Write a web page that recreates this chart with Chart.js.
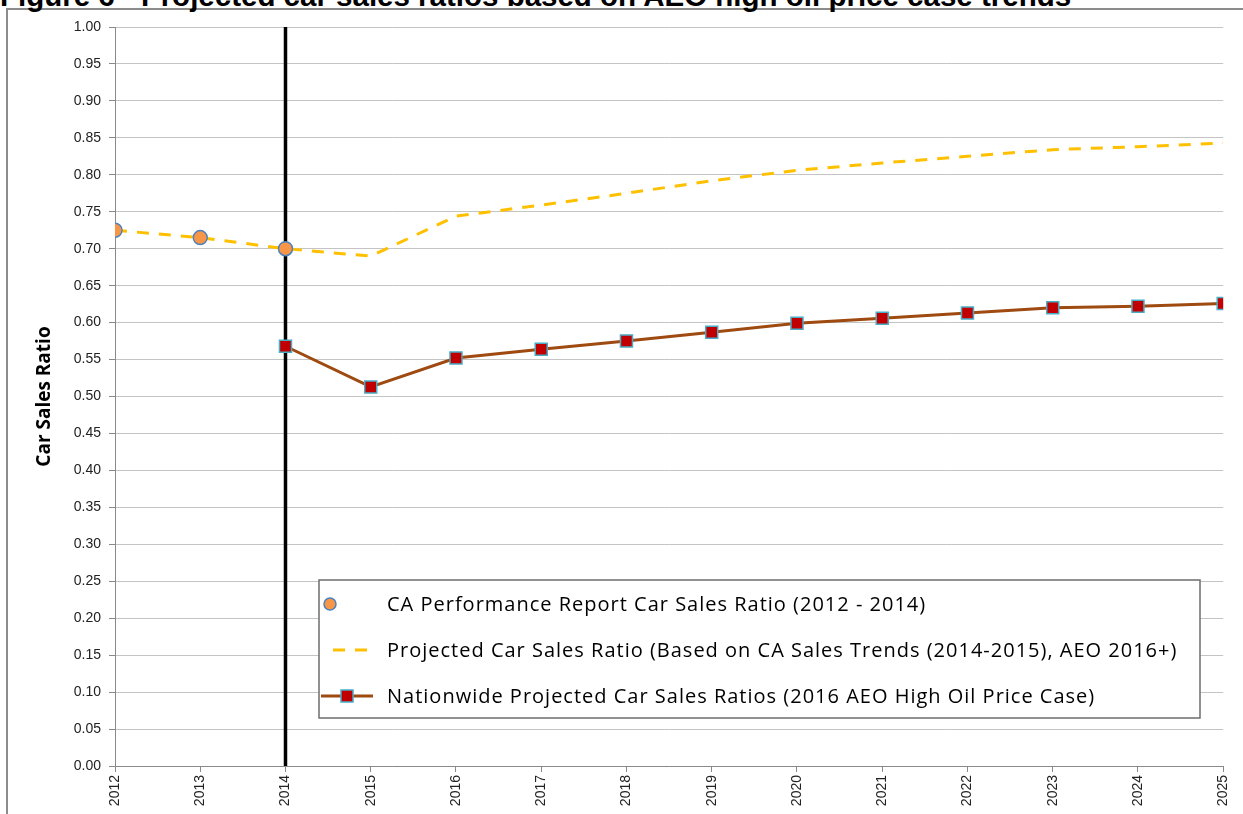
<!DOCTYPE html>
<html>
<head>
<meta charset="utf-8">
<script src="https://cdn.jsdelivr.net/npm/chart.js@4/dist/chart.umd.min.js"></script>
<style>
  html, body { margin: 0; padding: 0; background: #fff; overflow: hidden; }
  #wrap { position: relative; width: 1243px; height: 814px; overflow: hidden; }
  #frame { position: absolute; left: 6px; top: 8px; width: 1300px; height: 900px; border: 2px solid #8c8c8c; }
  #title { position: absolute; left: 0; top: -19px; font: bold 29.5px "Liberation Sans", Arial, sans-serif; line-height: 30px; white-space: nowrap; color: #000; }
  #chart { position: absolute; left: 0; top: 0; }
</style>
</head>
<body>
<div id="wrap">
  <div id="frame"></div>
  <div id="title">Figure 6 - Projected car sales ratios based on AEO high oil price case trends</div>
  <canvas id="chart" width="1243" height="830"></canvas>
</div>
<script>
// Données
const years = [2012, 2013, 2014, 2015, 2016, 2017, 2018, 2019, 2020, 2021, 2022, 2023, 2024, 2025];
const caReportYears = [2012, 2013, 2014];
const caReportValues = [0.725, 0.715, 0.700];
const projectedValues = [0.725, 0.715, 0.700, 0.690, 0.744, 0.759, 0.775, 0.792, 0.806, 0.816, 0.825, 0.834, 0.838, 0.843];
const nationYears = [2014, 2015, 2016, 2017, 2018, 2019, 2020, 2021, 2022, 2023, 2024, 2025];
const nationValues = [0.568, 0.513, 0.552, 0.564, 0.575, 0.587, 0.599, 0.606, 0.613, 0.620, 0.622, 0.626];
const markerYear = 2014;
const yRange = [0, 1];

const legendLabels = [
    'CA Performance Report Car Sales Ratio (2012 - 2014)',
    'Projected Car Sales Ratio (Based on CA Sales Trends (2014-2015), AEO 2016+)',
    'Nationwide Projected Car Sales Ratios (2016 AEO High Oil Price Case)'
];

const COLORS = {
    orange: '#F79646',
    blue: '#4F81BD',
    yellow: '#FFC000',
    brown: '#9E4A10',
    red: '#C00000',
    cyan: '#4BACC6',
    grid: '#c4c4c4',
    axis: '#8a8a8a'
};

function toPoints(xs, ys) {
    return xs.map((x, i) => ({ x: x, y: ys[i] }));
}

/**
 * Légende dessinée dans la zone du graphique
 */
const boxLegend = {
    id: 'boxLegend',
    afterDatasetsDraw(chart) {
        const ctx = chart.ctx;
        const area = chart.chartArea;
        const left = area.left + 204;
        const top = area.top + 553;
        const w = 881;
        const h = 138;

        ctx.save();
        ctx.fillStyle = '#fff';
        ctx.fillRect(left, top, w, h);
        ctx.strokeStyle = '#6e6e6e';
        ctx.lineWidth = 1.5;
        ctx.strokeRect(left, top, w, h);

        const rows = [top + 24, top + 70, top + 116];
        ctx.font = '20px "Open Sans", "Noto Sans", sans-serif';
        ctx.letterSpacing = '1px';
        ctx.fillStyle = '#000';
        ctx.textBaseline = 'middle';
        legendLabels.forEach((txt, i) => ctx.fillText(txt, left + 68, rows[i] + 1));
        ctx.letterSpacing = '0px';

        // cercle orange
        ctx.beginPath();
        ctx.arc(left + 11, rows[0], 6, 0, Math.PI * 2);
        ctx.fillStyle = COLORS.orange;
        ctx.fill();
        ctx.strokeStyle = COLORS.blue;
        ctx.lineWidth = 1.5;
        ctx.stroke();

        // tirets jaunes
        ctx.strokeStyle = COLORS.yellow;
        ctx.lineWidth = 3;
        ctx.setLineDash([12, 10]);
        ctx.beginPath();
        ctx.moveTo(left + 14, rows[1]);
        ctx.lineTo(left + 56, rows[1]);
        ctx.stroke();
        ctx.setLineDash([]);

        // ligne brune + carré rouge
        ctx.strokeStyle = COLORS.brown;
        ctx.beginPath();
        ctx.moveTo(left + 2, rows[2]);
        ctx.lineTo(left + 54, rows[2]);
        ctx.stroke();
        ctx.fillStyle = COLORS.red;
        ctx.fillRect(left + 22, rows[2] - 6, 12, 12);
        ctx.strokeStyle = COLORS.cyan;
        ctx.lineWidth = 1.5;
        ctx.strokeRect(left + 22, rows[2] - 6, 12, 12);
        ctx.restore();
    }
};

const ctx = document.getElementById('chart').getContext('2d');
new Chart(ctx, {
    type: 'scatter',
    data: {
        datasets: [
            {
                label: 'CA report',
                data: toPoints(caReportYears, caReportValues),
                showLine: false,
                pointStyle: 'circle',
                pointRadius: 7,
                pointBackgroundColor: COLORS.orange,
                pointBorderColor: COLORS.blue,
                pointBorderWidth: 1.5,
                order: 0
            },
            {
                label: 'Projected',
                data: toPoints(years, projectedValues),
                showLine: true,
                borderColor: COLORS.yellow,
                borderWidth: 3,
                borderDash: [12, 10],
                pointRadius: 0,
                tension: 0,
                order: 2
            },
            {
                label: 'Nationwide',
                data: toPoints(nationYears, nationValues),
                showLine: true,
                borderColor: COLORS.brown,
                borderWidth: 3,
                pointStyle: 'rect',
                pointRadius: 8.5,
                pointBackgroundColor: COLORS.red,
                pointBorderColor: COLORS.cyan,
                pointBorderWidth: 1.5,
                tension: 0,
                order: 1
            },
            {
                label: '2014',
                data: yRange.map(v => ({ x: markerYear, y: v })),
                showLine: true,
                borderColor: '#000',
                borderWidth: 3.5,
                pointRadius: 0,
                order: 3
            }
        ]
    },
    options: {
        responsive: false,
        animation: false,
        layout: { padding: { top: 27, right: 18, left: 0, bottom: 0 } },
        plugins: {
            legend: { display: false },
            tooltip: { enabled: false }
        },
        scales: {
            x: {
                type: 'linear',
                min: 2012,
                max: 2025,
                afterFit: scale => { scale.height = 64; },
                ticks: {
                    stepSize: 1,
                    autoSkip: false,
                    minRotation: 90,
                    maxRotation: 90,
                    padding: 3,
                    color: '#222',
                    font: { family: '"Liberation Sans", Arial, sans-serif', size: 14 },
                    callback: v => String(v)
                },
                grid: { drawOnChartArea: false, drawTicks: true, tickLength: 6, color: COLORS.axis },
                border: { color: COLORS.axis, width: 1 }
            },
            y: {
                min: 0,
                max: 1,
                afterFit: scale => { scale.width = 115; },
                ticks: {
                    stepSize: 0.05,
                    padding: 8,
                    color: '#222',
                    font: { family: '"Liberation Sans", Arial, sans-serif', size: 14 },
                    callback: v => v.toFixed(2)
                },
                grid: { color: COLORS.grid, tickLength: 6, tickColor: COLORS.axis },
                border: { color: COLORS.axis, width: 1 },
                title: {
                    display: true,
                    text: 'Car Sales Ratio',
                    color: '#000',
                    padding: { top: 33, bottom: 0 },
                    font: { family: '"Open Sans", "Noto Sans", sans-serif', size: 19, weight: 'bold' }
                }
            }
        }
    },
    plugins: [boxLegend]
});
</script>
</body>
</html>
